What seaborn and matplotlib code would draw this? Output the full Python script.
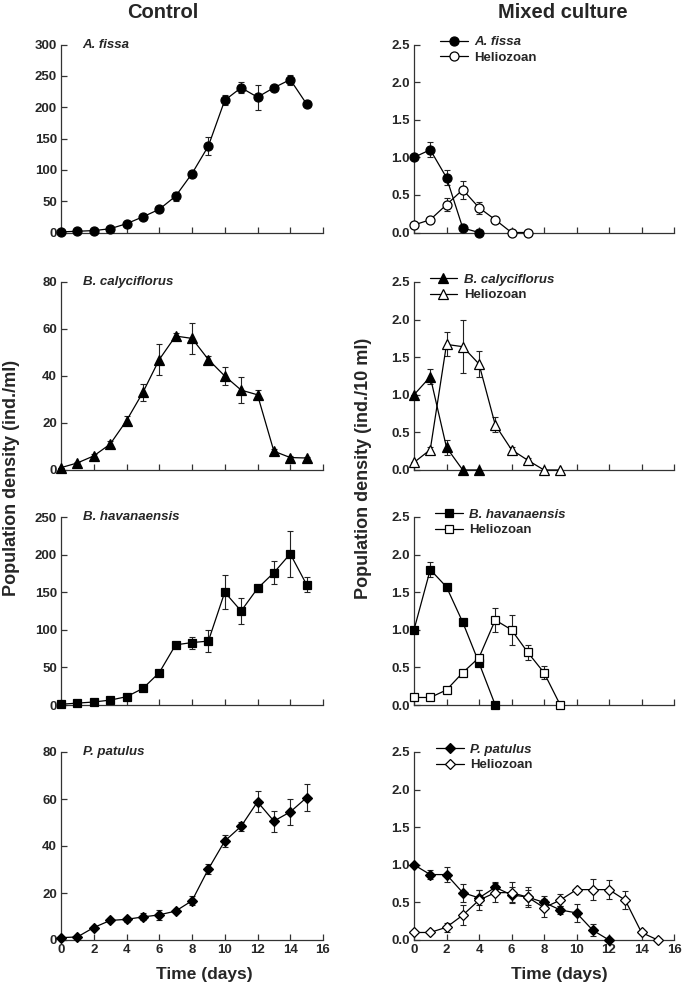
import numpy as np
import pandas as pd
import matplotlib
matplotlib.use("Agg")
import matplotlib.pyplot as plt
import seaborn as sns

# ---- data ----
days = list(range(16))

# Control cultures (ind./ml)
fissa_ctrl = [1, 2, 3, 6, 14, 25, 37, 58, 94, 138, 211, 231, 216, 231, 244, 205]
fissa_ctrl_err = [0, 0, 0, 1, 2, 2, 3, 7, 3, 14, 8, 9, 20, 3, 8, 2]
caly_ctrl = [1, 3, 6, 11, 21, 33, 47, 57, 56, 47, 40, 34, 32, 8, 5.3, 5.1]
caly_ctrl_err = [0, 0.5, 0.8, 1.5, 2, 3.5, 6.5, 1.5, 6.5, 1.5, 4, 5.5, 2, 1, 0.5, 0.5]
hav_ctrl = [1, 2.5, 4, 6.5, 11, 22, 43, 80, 83, 85, 150, 125, 155, 176, 201, 160]
hav_ctrl_err = [0, 0, 0, 1, 1, 2, 2, 2, 8, 15, 23, 17, 5, 15, 31, 10]
pat_ctrl = [1, 1.3, 5.3, 8.3, 8.8, 9.8, 10.7, 12.3, 16.7, 30.2, 42.1, 48.4, 58.8, 50.6, 54.5, 60.6]
pat_ctrl_err = [0, 0.3, 0.8, 0.8, 1, 1.5, 2, 1, 2, 2, 2.5, 2, 4.5, 4.5, 5.5, 5.8]

# Mixed cultures (ind./10 ml)
fissa_mix = [1.0, 1.10, 0.73, 0.06, 0.0]
fissa_mix_err = [0, 0.1, 0.1, 0.02, 0]
fissa_helio = [0.10, 0.17, 0.37, 0.57, 0.33, 0.17, 0.0, 0.0]
fissa_helio_err = [0, 0.02, 0.09, 0.12, 0.08, 0.02, 0, 0]
caly_mix = [1.0, 1.24, 0.30, 0.0, 0.0]
caly_mix_err = [0, 0.1, 0.1, 0, 0]
caly_helio = [0.10, 0.27, 1.67, 1.64, 1.41, 0.60, 0.27, 0.13, 0.0, 0.0]
caly_helio_err = [0, 0.03, 0.16, 0.35, 0.17, 0.1, 0.03, 0.03, 0, 0]
hav_mix = [1.0, 1.80, 1.57, 1.10, 0.56, 0.0]
hav_mix_err = [0, 0.1, 0.02, 0.02, 0.02, 0]
hav_helio = [0.10, 0.10, 0.20, 0.43, 0.63, 1.13, 1.0, 0.70, 0.43, 0.0]
hav_helio_err = [0, 0, 0.02, 0.03, 0.03, 0.16, 0.2, 0.1, 0.09, 0]
pat_mix = [1.0, 0.87, 0.87, 0.63, 0.56, 0.70, 0.60, 0.57, 0.50, 0.40, 0.36, 0.13, 0.0]
pat_mix_err = [0, 0.06, 0.1, 0.12, 0.1, 0.07, 0.1, 0.1, 0.08, 0.05, 0.12, 0.08, 0]
pat_helio = [0.10, 0.10, 0.17, 0.33, 0.53, 0.63, 0.63, 0.57, 0.43, 0.53, 0.67, 0.67, 0.67, 0.53, 0.10, 0.0]
pat_helio_err = [0, 0, 0.06, 0.13, 0.13, 0.13, 0.14, 0.13, 0.12, 0.08, 0.02, 0.14, 0.13, 0.12, 0.02, 0]

species = ["A. fissa", "B. calyciflorus", "B. havanaensis", "P. patulus"]
markers = ["o", "^", "s", "D"]
ctrl_vals = [fissa_ctrl, caly_ctrl, hav_ctrl, pat_ctrl]
ctrl_errs = [fissa_ctrl_err, caly_ctrl_err, hav_ctrl_err, pat_ctrl_err]
ctrl_ymax = [300, 80, 250, 80]
ctrl_ystep = [50, 20, 50, 20]
mix_vals = [fissa_mix, caly_mix, hav_mix, pat_mix]
mix_errs = [fissa_mix_err, caly_mix_err, hav_mix_err, pat_mix_err]
helio_vals = [fissa_helio, caly_helio, hav_helio, pat_helio]
helio_errs = [fissa_helio_err, caly_helio_err, hav_helio_err, pat_helio_err]
legend_x = [0.10, 0.06, 0.08, 0.085]

sns.set_theme(style="ticks")
plt.rcParams["font.family"] = ["Liberation Sans", "DejaVu Sans"]
plt.rcParams["font.weight"] = "bold"
plt.rcParams["xtick.direction"] = "in"
plt.rcParams["ytick.direction"] = "in"

W, H = 685, 991
fig = plt.figure(figsize=(W / 100, H / 100), dpi=100)

row_tops = [44.5, 282, 517, 752]
ax_h = 188
left_x0, left_w = 61, 262
right_x0, right_w = 414, 260


def draw(ax, x, y, err, marker, filled, label=None):
    df = pd.DataFrame({"day": x, "val": y})
    ax.errorbar(x, y, yerr=err, fmt="none", ecolor="#222222", elinewidth=0.8,
                capsize=2.5, capthick=0.8, zorder=2, clip_on=False)
    ms = 6.5 if marker in ("o", "^") else 5.5
    sns.lineplot(data=df, x="day", y="val", ax=ax, color="black", lw=0.9,
                 marker=marker, markersize=ms,
                 markerfacecolor="black" if filled else "white",
                 markeredgecolor="black", markeredgewidth=0.9,
                 label=label, legend=False, zorder=3, clip_on=False)


def style(ax, ymax, ystep, fmt, show_x):
    ax.set_xlim(0, 16)
    ax.set_ylim(0, ymax)
    ax.set_xticks(np.arange(0, 17, 2))
    ax.set_yticks(np.arange(0, ymax + ystep / 2, ystep))
    ax.yaxis.set_major_formatter(matplotlib.ticker.FormatStrFormatter(fmt))
    sns.despine(ax=ax)
    for s in ("left", "bottom"):
        ax.spines[s].set_linewidth(0.9)
        ax.spines[s].set_color("#333333")
    ax.tick_params(axis="both", length=4.5, width=0.9, color="#333333",
                   labelsize=9.5, pad=3)
    if not show_x:
        ax.tick_params(axis="x", labelbottom=False)
    for lab in ax.get_xticklabels() + ax.get_yticklabels():
        lab.set_fontweight("bold")
    ax.set_xlabel("")
    ax.set_ylabel("")
    ax.set_facecolor("none")


for i in range(4):
    bottom = 1 - (row_tops[i] + ax_h) / H
    axl = fig.add_axes([left_x0 / W, bottom, left_w / W, ax_h / H])
    axr = fig.add_axes([right_x0 / W, bottom, right_w / W, ax_h / H])

    draw(axl, days, ctrl_vals[i], ctrl_errs[i], markers[i], True)
    style(axl, ctrl_ymax[i], ctrl_ystep[i], "%d", i == 3)
    axl.text(0.083, 1.0, species[i], transform=axl.transAxes, ha="left",
             va="center", fontsize=9.5, fontweight="bold", fontstyle="italic")

    draw(axr, days[:len(mix_vals[i])], mix_vals[i], mix_errs[i], markers[i], True, species[i])
    draw(axr, days[:len(helio_vals[i])], helio_vals[i], helio_errs[i], markers[i], False, "Heliozoan")
    style(axr, 2.5, 0.5, "%.1f", i == 3)
    leg = axr.legend(loc="upper left", bbox_to_anchor=(legend_x[i], 1.045),
                     frameon=False, borderpad=0, borderaxespad=0,
                     handlelength=2.1, handletextpad=0.5, labelspacing=0.25,
                     prop={"size": 9.5, "weight": "bold"})
    leg.get_texts()[0].set_fontstyle("italic")

fig.text(163 / W, 1 - 13 / H, "Control", ha="center", va="center",
         fontsize=14.5, fontweight="bold")
fig.text(563 / W, 1 - 13 / H, "Mixed culture", ha="center", va="center",
         fontsize=14.5, fontweight="bold")
fig.text(204 / W, 1 - 975 / H, "Time (days)", ha="center", va="center",
         fontsize=12.5, fontweight="bold")
fig.text(559 / W, 1 - 975 / H, "Time (days)", ha="center", va="center",
         fontsize=12.5, fontweight="bold")
fig.text(12 / W, 1 - 478 / H, "Population density (ind./ml)", ha="center",
         va="center", rotation=90, fontsize=13, fontweight="bold")
fig.text(364 / W, 1 - 468 / H, "Population density (ind./10 ml)", ha="center",
         va="center", rotation=90, fontsize=13, fontweight="bold")

fig.savefig("out.png", dpi=100, facecolor="white")
